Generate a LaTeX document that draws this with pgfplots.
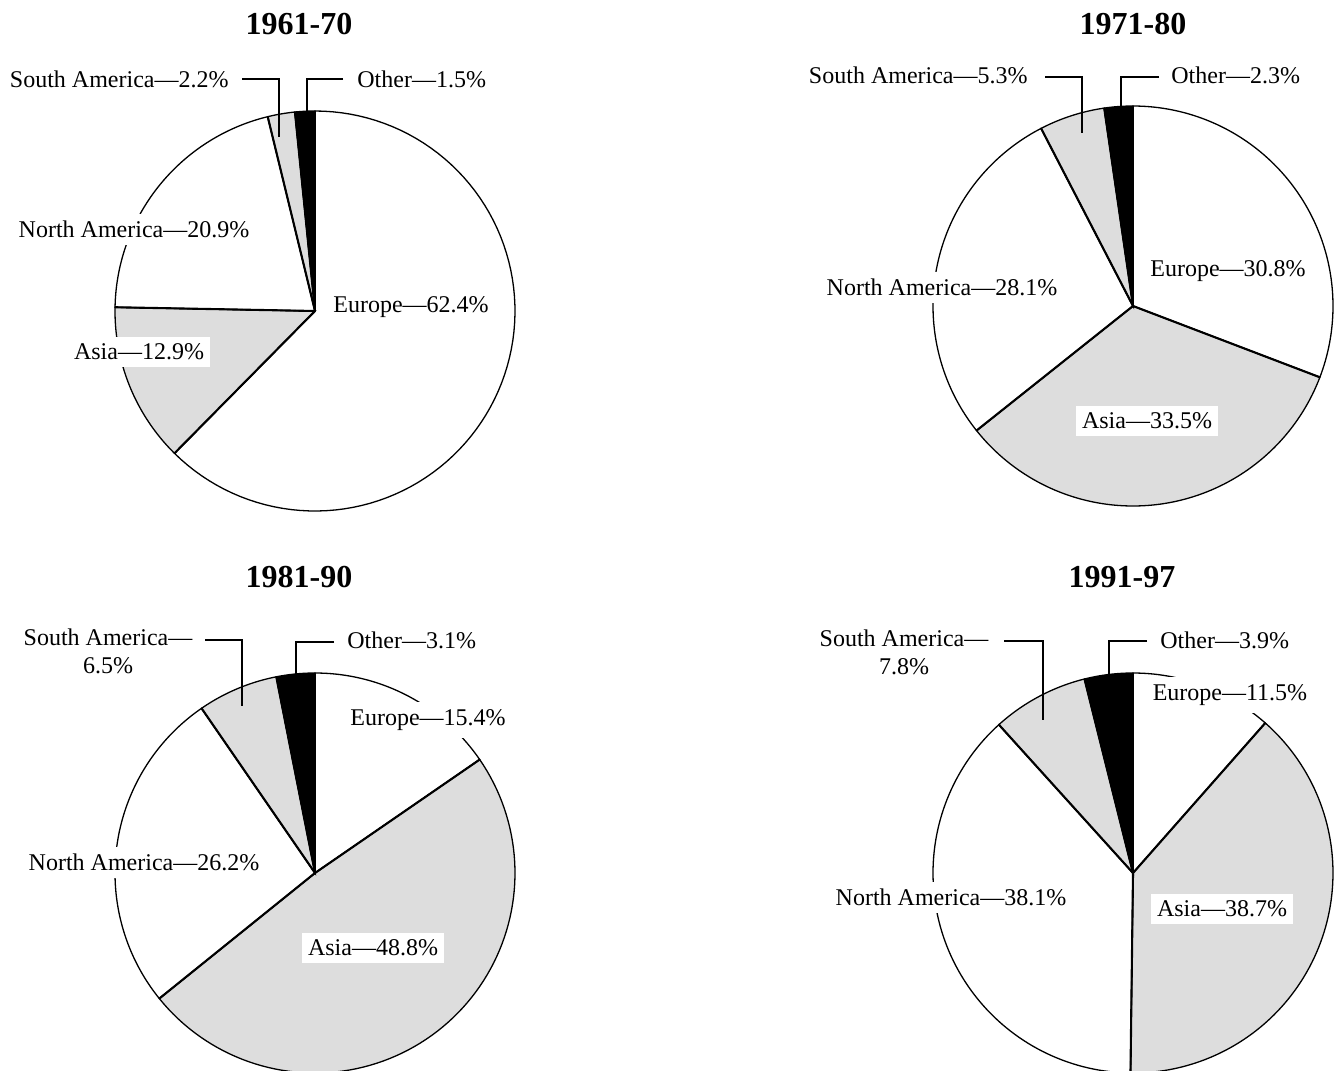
\documentclass[border=0pt]{standalone}
\usepackage{pgfplots}
\pgfplotsset{compat=1.18}
\usepackage{fontspec}
\setmainfont{Liberation Serif}
\definecolor{lgray}{HTML}{DDDDDD}
% slice: cx, cy, start %, end %, fill
\newcommand\slice[5]{%
  \addplot[fill=#5, draw=black, line width=0.65pt, domain=#3:#4, samples=90]
    ({#1+200*sin(3.6*x)}, {#2-200*cos(3.6*x)}) -- (#1,#2) -- cycle;}
\newcommand\radial[3]{%
  \addplot[black, line width=1.05pt, domain=0:200, samples=2]
    ({#1+x*sin(3.6*#3)}, {#2-x*cos(3.6*#3)});}
\newcommand\lab{\fontsize{12}{14}\selectfont}
\newcommand\ttl{\bfseries\fontsize{16}{19}\selectfont}
\begin{document}
\begin{tikzpicture}
\path[use as bounding box] (0,0) rectangle (667pt,535.5pt);
\begin{axis}[at={(0,0)}, anchor=south west, scale only axis,
  width=667pt, height=535.5pt, xmin=0, xmax=1334, ymin=0, ymax=1071,
  y dir=reverse, hide axis, clip=true]
% ---------- 1961-70 ----------
\slice{315}{311}{0}{62.4}{white}
\slice{315}{311}{62.4}{75.3}{lgray}
\slice{315}{311}{75.3}{96.2}{white}
\slice{315}{311}{96.2}{98.4}{lgray}
\slice{315}{311}{98.4}{100}{black}
\radial{315}{311}{0}
\radial{315}{311}{62.4}
\radial{315}{311}{75.3}
\radial{315}{311}{96.2}
\radial{315}{311}{98.4}
\addplot[black, line width=1.35pt] coordinates {(242,79) (279,79) (279,137)};
\addplot[black, line width=1.35pt] coordinates {(343,79) (307,79) (307,113)};
% ---------- 1971-80 ----------
\slice{1133}{306}{0}{30.8}{white}
\slice{1133}{306}{30.8}{64.3}{lgray}
\slice{1133}{306}{64.3}{92.4}{white}
\slice{1133}{306}{92.4}{97.7}{lgray}
\slice{1133}{306}{97.7}{100}{black}
\radial{1133}{306}{0}
\radial{1133}{306}{30.8}
\radial{1133}{306}{64.3}
\radial{1133}{306}{92.4}
\radial{1133}{306}{97.7}
\addplot[black, line width=1.35pt] coordinates {(1045,77) (1082,77) (1082,133)};
\addplot[black, line width=1.35pt] coordinates {(1159,77) (1121,77) (1121,108)};
% ---------- 1981-90 ----------
\slice{315}{873}{0}{15.4}{white}
\slice{315}{873}{15.4}{64.2}{lgray}
\slice{315}{873}{64.2}{90.4}{white}
\slice{315}{873}{90.4}{96.9}{lgray}
\slice{315}{873}{96.9}{100}{black}
\radial{315}{873}{0}
\radial{315}{873}{15.4}
\radial{315}{873}{64.2}
\radial{315}{873}{90.4}
\radial{315}{873}{96.9}
\addplot[black, line width=1.35pt] coordinates {(205,640) (242,640) (242,706)};
\addplot[black, line width=1.35pt] coordinates {(334,642) (296,642) (296,675)};
% ---------- 1991-97 ----------
\slice{1133}{873}{0}{11.5}{white}
\slice{1133}{873}{11.5}{50.2}{lgray}
\slice{1133}{873}{50.2}{88.3}{white}
\slice{1133}{873}{88.3}{96.1}{lgray}
\slice{1133}{873}{96.1}{100}{black}
\radial{1133}{873}{0}
\radial{1133}{873}{11.5}
\radial{1133}{873}{50.2}
\radial{1133}{873}{88.3}
\radial{1133}{873}{96.1}
\addplot[black, line width=1.35pt] coordinates {(1004,641) (1043,641) (1043,720)};
\addplot[black, line width=1.35pt] coordinates {(1147,641) (1109,641) (1109,677)};
% ---------- titles ----------
\node[font=\ttl] at (299,24) {1961-70};
\node[font=\ttl] at (1133,24) {1971-80};
\node[font=\ttl] at (299,577) {1981-90};
\node[font=\ttl] at (1122,577) {1991-97};
% ---------- labels ----------
\tikzset{plain/.style={font=\lab, inner sep=0pt},
         boxed/.style={font=\lab, fill=white, inner xsep=3pt, inner ysep=3.5pt}}
\node[plain, anchor=east] at (229,79) {South America—2.2\%};
\node[plain, anchor=west] at (357,79) {Other—1.5\%};
\node[boxed] at (134,229) {North America—20.9\%};
\node[plain, anchor=west] at (333,307) {Europe—62.4\%};
\node[boxed] at (139,352) {Asia—12.9\%};

\node[plain, anchor=east] at (1028,75) {South America—5.3\%};
\node[plain, anchor=west] at (1171,75) {Other—2.3\%};
\node[plain, anchor=west] at (1150,271) {Europe—30.8\%};
\node[boxed] at (942,287) {North America—28.1\%};
\node[boxed] at (1147,421) {Asia—33.5\%};

\node[plain, align=center, font=\fontsize{12}{14}\selectfont] at (108,651) {South America—\\6.5\%};
\node[plain, anchor=west] at (347,640) {Other—3.1\%};
\node[boxed] at (428,720) {Europe—15.4\%};
\node[boxed] at (144,862) {North America—26.2\%};
\node[boxed] at (373,948) {Asia—48.8\%};

\node[plain, align=center, font=\fontsize{12}{14}\selectfont] at (904,652) {South America—\\7.8\%};
\node[plain, anchor=west] at (1160,640) {Other—3.9\%};
\node[boxed] at (1230,695) {Europe—11.5\%};
\node[boxed] at (951,897) {North America—38.1\%};
\node[boxed] at (1222,909) {Asia—38.7\%};
\end{axis}
\end{tikzpicture}
\end{document}
